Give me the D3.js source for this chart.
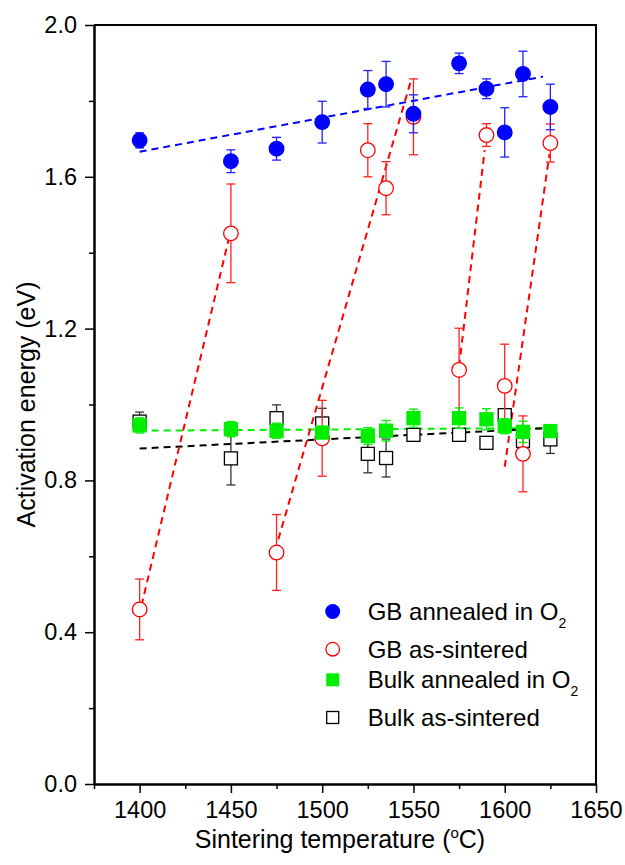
<!DOCTYPE html>
<html>
<head>
<meta charset="utf-8">
<script src="https://cdn.jsdelivr.net/npm/d3@7"></script>
<style>
  body { margin: 0; background: #fff; }
  text { font-family: "Liberation Sans", Arial, sans-serif; fill: #000; }
</style>
</head>
<body>
<div id="viz"></div>
<script>
// sintering temperatures (deg C)
var temps = [1400, 1450, 1475, 1500, 1525, 1535, 1550, 1575, 1590, 1600, 1610, 1625];

// activation energies (eV) and error bars
var gbAnnealed      = [1.696, 1.641, 1.674, 1.744, 1.830, 1.844, 1.766, 1.899, 1.832, 1.717, 1.871, 1.784];
var gbAnnealedErr   = [0.020, 0.030, 0.030, 0.055, 0.050, 0.060, 0.050, 0.027, 0.026, 0.065, 0.060, 0.060];
var gbSintered      = [0.460, 1.451, 0.610, 0.911, 1.670, 1.570, 1.758, 1.091, 1.710, 1.049, 0.870, 1.689];
var gbSinteredErr   = [0.080, 0.130, 0.100, 0.100, 0.070, 0.070, 0.100, 0.110, 0.030, 0.110, 0.100, 0.050];
var bulkAnnealed    = [0.945, 0.935, 0.931, 0.926, 0.917, 0.931, 0.964, 0.964, 0.961, 0.943, 0.928, 0.930];
var bulkAnnealedErr = [0.020, 0.020, 0.020, 0.012, 0.022, 0.027, 0.024, 0.027, 0.028, 0.020, 0.028, 0.015];
var bulkSintered    = [0.955, 0.858, 0.964, 0.950, 0.870, 0.859, 0.920, 0.920, 0.899, 0.972, 0.904, 0.908];
var bulkSinteredErr = [0.025, 0.070, 0.035, 0.040, 0.050, 0.050, 0.012, 0.013, 0.013, 0.015, 0.020, 0.037];

// dashed guide lines [temperature, energy]
var blueFit  = [[1400, 1.666], [1621, 1.864]];
var greenFit = [[1400, 0.931], [1625, 0.938]];
var blackFit = [[1400, 0.884], [1625, 0.938]];
var redFits  = [
    [[1401, 0.470], [1449, 1.440]],
    [[1476, 0.645], [1549, 1.860]],
    [[1575, 1.100], [1589, 1.670]],
    [[1600, 0.836], [1624.5, 1.660]]
];

var xTicks = [1400, 1450, 1500, 1550, 1600, 1650];
var xMinor = [1375, 1425, 1475, 1525, 1575, 1625];
var yTicks = [0.0, 0.4, 0.8, 1.2, 1.6, 2.0];
var yMinor = [0.2, 0.6, 1.0, 1.4, 1.8];

var W = 625, H = 865;
var plot = {left: 94, right: 596, top: 25, bottom: 784};

var svg = d3.select("#viz")
    .append("svg")
    .attr("width", W)
    .attr("height", H);

var x = d3.scaleLinear().domain([1375, 1650]).range([plot.left, plot.right]);
var y = d3.scaleLinear().domain([0, 2]).range([plot.bottom, plot.top]);

// frame (top and right)
svg.append("path")
    .attr("d", "M" + plot.left + "," + plot.top + "H" + plot.right + "V" + plot.bottom)
    .attr("fill", "none")
    .attr("stroke", "#000")
    .attr("stroke-width", 2);

// axes
var fmt = d3.format(".1f");
svg.append("g")
    .attr("transform", "translate(" + plot.left + ",0)")
    .call(d3.axisLeft(y).tickValues(yTicks).tickFormat(fmt).tickSize(9).tickSizeOuter(0).tickPadding(8));
svg.append("g")
    .attr("transform", "translate(" + plot.left + ",0)")
    .call(d3.axisLeft(y).tickValues(yMinor).tickFormat("").tickSize(5).tickSizeOuter(0));
svg.append("g")
    .attr("transform", "translate(0," + plot.bottom + ")")
    .call(d3.axisBottom(x).tickValues(xTicks).tickFormat(d3.format("d")).tickSize(9).tickSizeOuter(0).tickPadding(8));
svg.append("g")
    .attr("transform", "translate(0," + plot.bottom + ")")
    .call(d3.axisBottom(x).tickValues(xMinor).tickFormat("").tickSize(5).tickSizeOuter(0));

svg.selectAll(".domain").attr("stroke-width", 2);
svg.selectAll(".tick line").attr("stroke-width", 1.5);
svg.selectAll(".tick text")
    .style("font-size", "23.5px")
    .style("font-family", "'Liberation Sans', Arial, sans-serif");

// axis titles
svg.append("text")
    .attr("transform", "rotate(-90)")
    .attr("x", -(plot.top + plot.bottom) / 2)
    .attr("y", 35)
    .attr("text-anchor", "middle")
    .style("font-size", "25px")
    .text("Activation energy (eV)");

var xt = svg.append("text")
    .attr("x", 340)
    .attr("y", 848)
    .attr("text-anchor", "middle")
    .style("font-size", "25px");
xt.append("tspan").text("Sintering temperature (");
xt.append("tspan").attr("dy", -10).style("font-size", "15px").text("o");
xt.append("tspan").attr("dy", 10).text("C)");

// dashed lines
var line = d3.line()
    .x(function (d) { return x(d[0]); })
    .y(function (d) { return y(d[1]); });

function dashed(pts, color) {
    svg.append("path")
        .datum(pts)
        .attr("d", line)
        .attr("fill", "none")
        .attr("stroke", color)
        .attr("stroke-width", 2)
        .attr("stroke-dasharray", "7,5");
}
dashed(greenFit, "#00ee00");
dashed(blackFit, "#000");
dashed(blueFit, "#0000ff");
redFits.forEach(function (f) { dashed(f, "#ff0000"); });

// error bars
function errorBars(vals, errs, color) {
    var g = svg.append("g")
        .attr("stroke", color)
        .attr("stroke-width", 1.3)
        .attr("fill", "none");
    temps.forEach(function (t, i) {
        var cx = x(t), y1 = y(vals[i] + errs[i]), y2 = y(vals[i] - errs[i]);
        g.append("line").attr("x1", cx).attr("x2", cx).attr("y1", y1).attr("y2", y2);
        g.append("line").attr("x1", cx - 4.5).attr("x2", cx + 4.5).attr("y1", y1).attr("y2", y1);
        g.append("line").attr("x1", cx - 4.5).attr("x2", cx + 4.5).attr("y1", y2).attr("y2", y2);
    });
}

function squares(vals, fill, stroke) {
    svg.append("g")
        .selectAll("rect")
        .data(temps)
        .enter()
        .append("rect")
        .attr("x", function (d) { return x(d) - 6.5; })
        .attr("y", function (d, i) { return y(vals[i]) - 6.5; })
        .attr("width", 13)
        .attr("height", 13)
        .attr("fill", fill)
        .attr("stroke", stroke)
        .attr("stroke-width", 1.3);
}

function circles(vals, fill, stroke) {
    svg.append("g")
        .selectAll("circle")
        .data(temps)
        .enter()
        .append("circle")
        .attr("cx", function (d) { return x(d); })
        .attr("cy", function (d, i) { return y(vals[i]); })
        .attr("r", 7.3)
        .attr("fill", fill)
        .attr("stroke", stroke)
        .attr("stroke-width", 1.3);
}

errorBars(bulkSintered, bulkSinteredErr, "#333");
squares(bulkSintered, "#fff", "#000");
errorBars(gbSintered, gbSinteredErr, "#ff2020");
circles(gbSintered, "#fff", "#ff0000");
errorBars(bulkAnnealed, bulkAnnealedErr, "#00ee00");
squares(bulkAnnealed, "#00ee00", "#00ee00");
errorBars(gbAnnealed, gbAnnealedErr, "#2020ff");
circles(gbAnnealed, "#0000ff", "#0000ff");

// legend
var legendNames = ["GB annealed in O", "GB as-sintered", "Bulk annealed in O", "Bulk as-sintered"];
var legendSub = ["2", "", "2", ""];
var legendY = [620, 657.7, 688.3, 726];
var symX = 332.7, textX = 367.7;

legendNames.forEach(function (name, i) {
    var cy = legendY[i] - 8.5;
    if (i === 0) {
        svg.append("circle").attr("cx", symX).attr("cy", cy).attr("r", 7.5).attr("fill", "#0000ff");
    } else if (i === 1) {
        svg.append("circle").attr("cx", symX).attr("cy", cy).attr("r", 6.8)
            .attr("fill", "#fff").attr("stroke", "#ff0000").attr("stroke-width", 1.3);
    } else if (i === 2) {
        svg.append("rect").attr("x", symX - 6.5).attr("y", cy - 6.5).attr("width", 13).attr("height", 13)
            .attr("fill", "#00ee00");
    } else {
        svg.append("rect").attr("x", symX - 6).attr("y", cy - 6).attr("width", 12).attr("height", 12)
            .attr("fill", "#fff").attr("stroke", "#000").attr("stroke-width", 1.3);
    }
    var t = svg.append("text")
        .attr("x", textX)
        .attr("y", legendY[i])
        .style("font-size", "24px");
    t.append("tspan").text(name);
    if (legendSub[i]) {
        t.append("tspan").attr("dy", 8).style("font-size", "14px").text(legendSub[i]);
    }
});
</script>
</body>
</html>
